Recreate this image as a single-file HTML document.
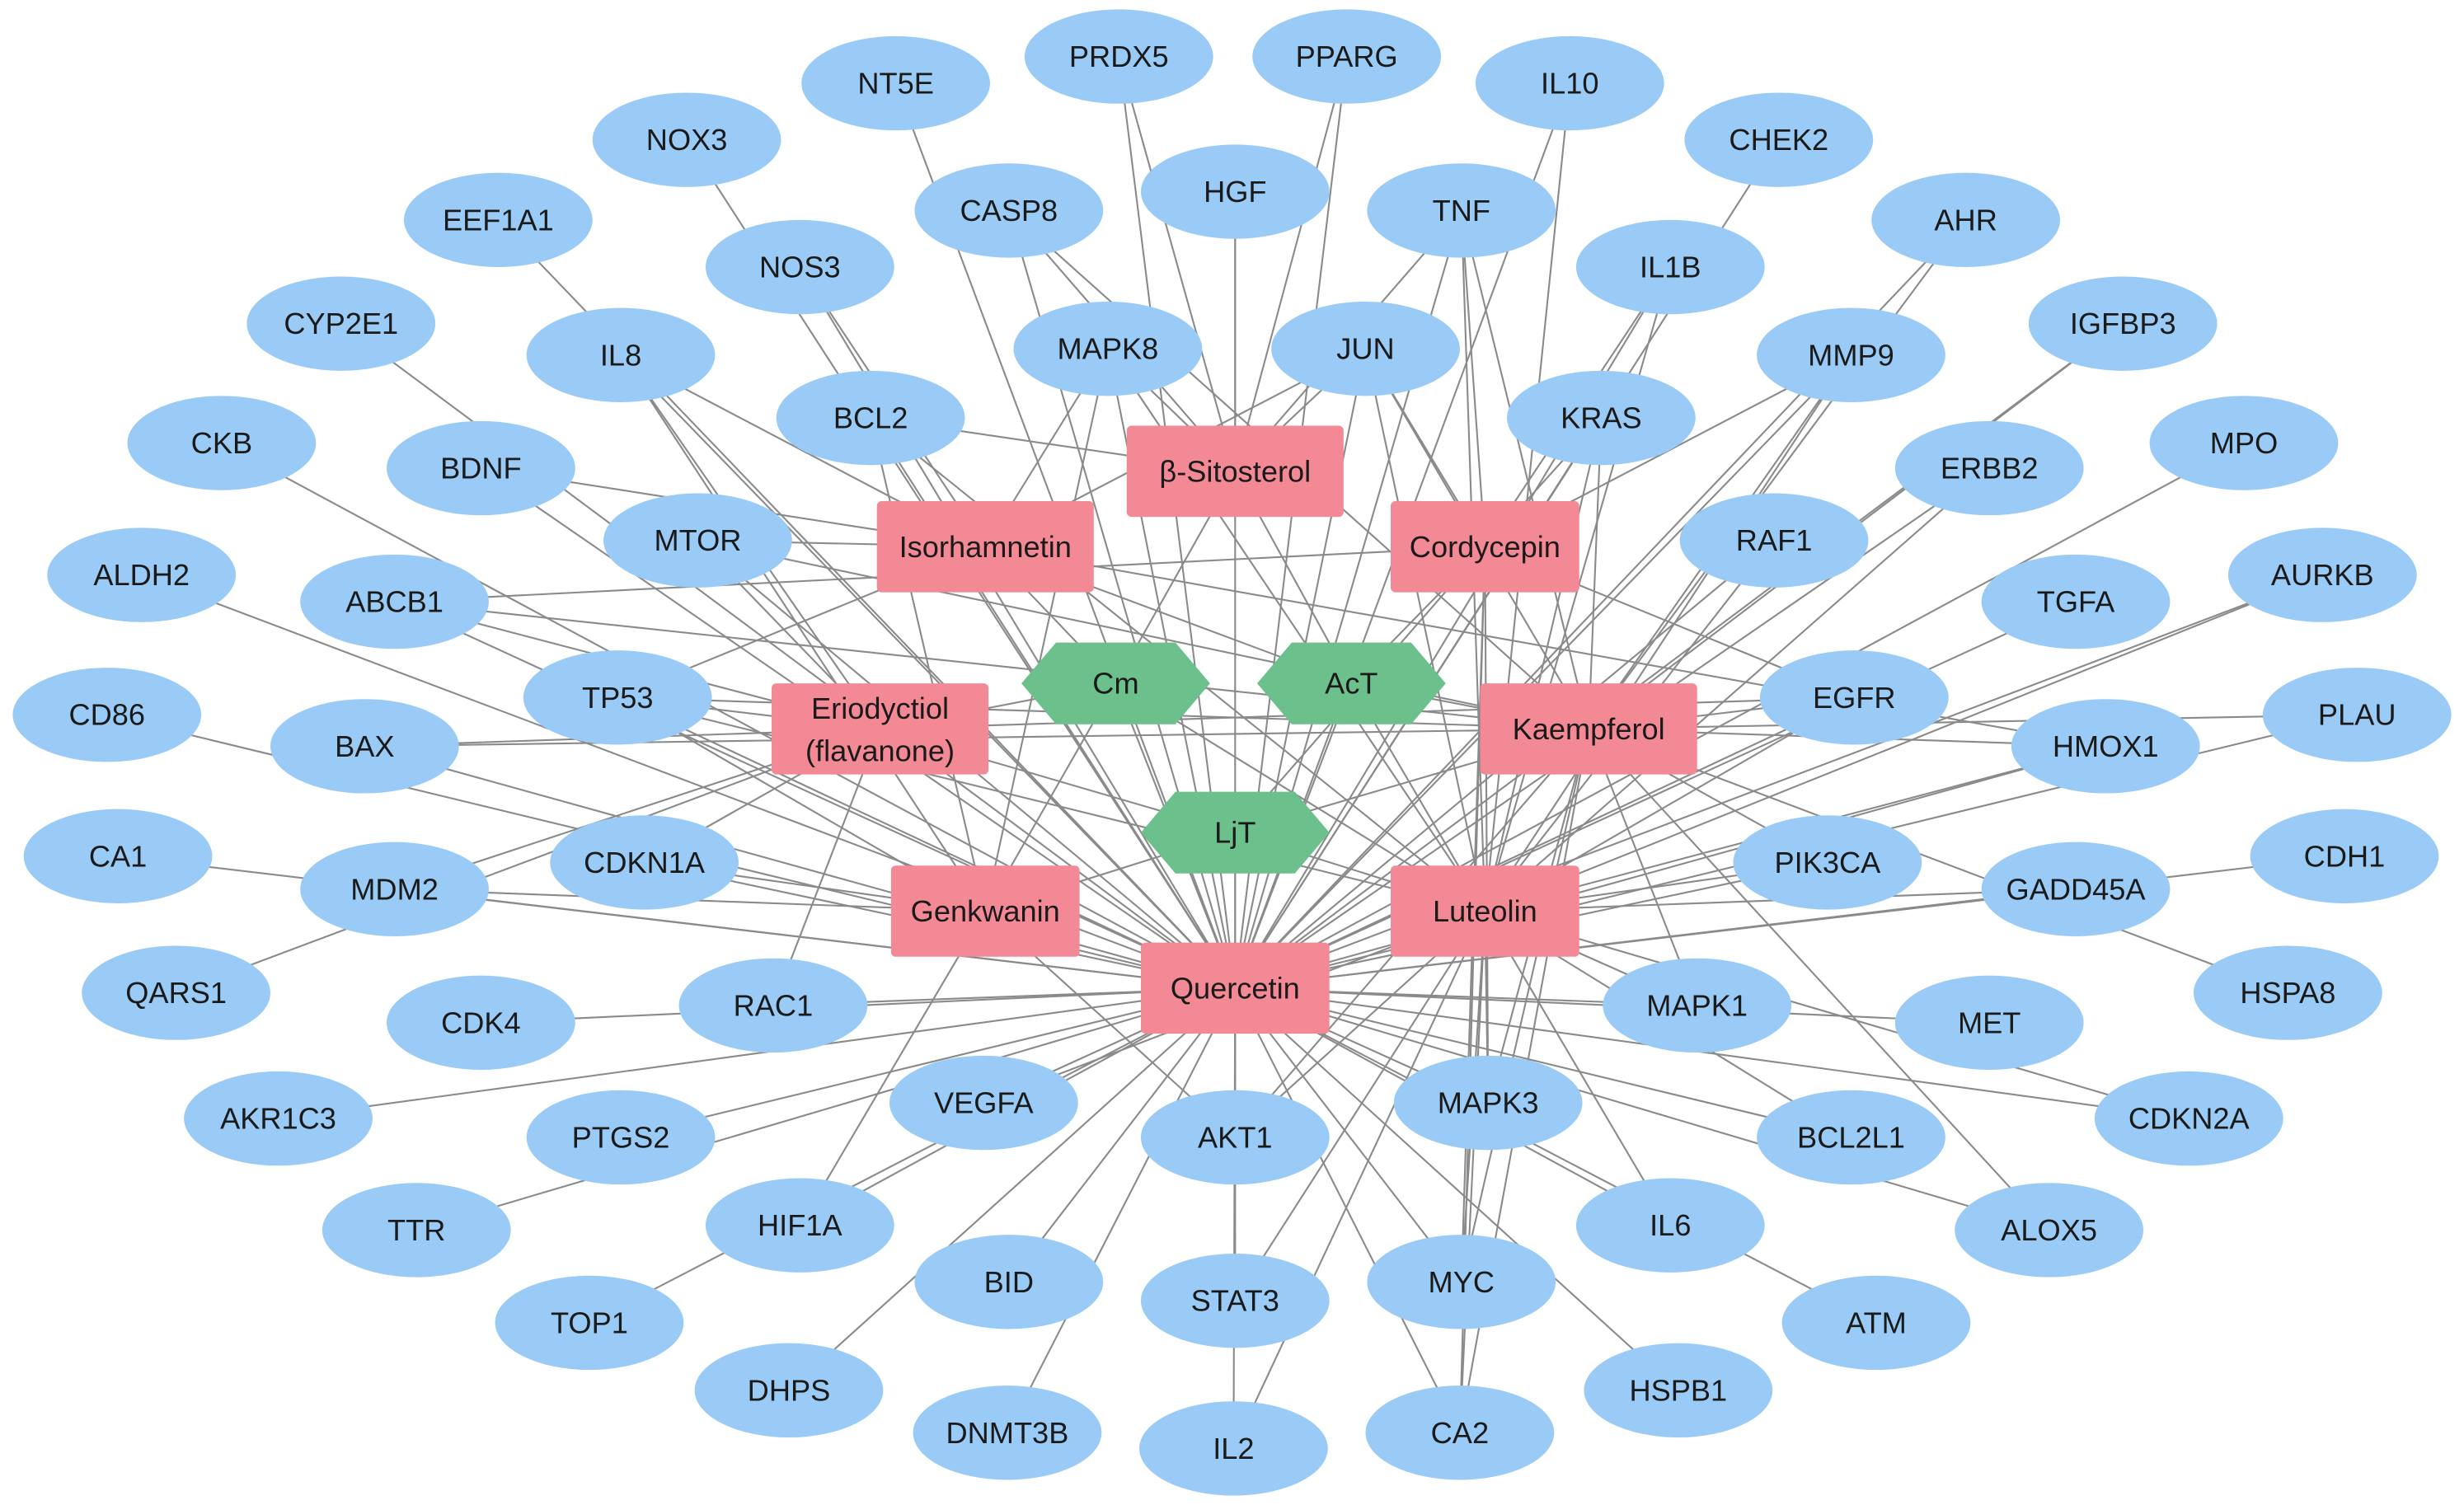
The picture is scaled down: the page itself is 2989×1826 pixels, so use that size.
<!DOCTYPE html>
<html><head><meta charset="utf-8"><style>
html,body{margin:0;padding:0;background:#fff;}
svg{display:block;}
text{font-family:"Liberation Sans",Arial,sans-serif;font-size:19px;fill:#1a1a1a;text-anchor:middle;dominant-baseline:central;}
</style></head><body>
<svg id="s" width="2989" height="1826" viewBox="0 0 1568 958" xmlns="http://www.w3.org/2000/svg">
<g id="edges" stroke="#8a8a8a" stroke-width="1.1"></g>
<g id="nodes"></g>
</svg>
<script>
var T={NT5E:[570,53],PRDX5:[712,36],PPARG:[857,36],IL10:[999,53],NOX3:[437,89],CHEK2:[1132,89],EEF1A1:[317,140],CASP8:[642,134],HGF:[786,122],TNF:[930,134],AHR:[1251,140],NOS3:[509,170],IL1B:[1063,170],CYP2E1:[217,206],IGFBP3:[1351,206],IL8:[395,226],MAPK8:[705,222],JUN:[869,222],MMP9:[1178,226],BCL2:[554,266],KRAS:[1019,266],CKB:[141,282],MPO:[1428,282],BDNF:[306,298],ERBB2:[1266,298],MTOR:[444,344],RAF1:[1129,344],ALDH2:[90,366],AURKB:[1478,366],ABCB1:[251,383],TGFA:[1321,383],TP53:[393,444],EGFR:[1180,444],CD86:[68,455],PLAU:[1500,455],BAX:[232,475],HMOX1:[1340,475],CA1:[75,545],CDH1:[1492,545],CDKN1A:[410,549],PIK3CA:[1163,549],MDM2:[251,566],GADD45A:[1321,566],QARS1:[112,632],HSPA8:[1456,632],CDK4:[306,651],RAC1:[492,640],MAPK1:[1080,640],MET:[1266,651],AKR1C3:[177,712],CDKN2A:[1393,712],VEGFA:[626,702],MAPK3:[947,702],PTGS2:[395,724],AKT1:[786,724],BCL2L1:[1178,724],TTR:[265,783],HIF1A:[509,780],IL6:[1063,780],ALOX5:[1304,783],BID:[642,816],STAT3:[786,828],MYC:[930,816],TOP1:[375,842],ATM:[1194,842],DHPS:[502,885],HSPB1:[1068,885],DNMT3B:[641,912],IL2:[785,922],CA2:[929,912]};
var C={Sit:[786,300,138,'β-Sitosterol'],Iso:[627,348,138,'Isorhamnetin'],Cor:[945,348,120,'Cordycepin'],Eri:[560,464,138,'Eriodyctiol|(flavanone)'],Kae:[1011,464,138,'Kaempferol'],Gen:[627,580,120,'Genkwanin'],Lut:[945,580,120,'Luteolin'],Que:[786,629,120,'Quercetin']};
var H={Cm:[710,435],AcT:[860,435],LjT:[786,530]};
var E={
Que:['NT5E','PRDX5','PPARG','IL10','CASP8','HGF','TNF','AHR','NOS3','IL1B','CYP2E1','IGFBP3','IL8','MAPK8','JUN','MMP9','BCL2','KRAS','CKB','MPO','BDNF','ERBB2','MTOR','RAF1','ALDH2','AURKB','ABCB1','TGFA','TP53','EGFR','CD86','PLAU','BAX','HMOX1','CDKN1A','PIK3CA','MDM2','GADD45A','CDK4','RAC1','MAPK1','MET','AKR1C3','CDKN2A','VEGFA','MAPK3','PTGS2','AKT1','BCL2L1','TTR','HIF1A','IL6','ALOX5','BID','STAT3','MYC','TOP1','ATM','DHPS','HSPB1','DNMT3B','IL2','CA2','CHEK2','EEF1A1','NOX3','CA1','CDH1'],
Lut:['IL10','TNF','IL1B','JUN','MMP9','KRAS','MAPK8','RAF1','EGFR','HMOX1','PIK3CA','MAPK1','MAPK3','AKT1','BCL2L1','IL6','MYC','STAT3','CA2','VEGFA','TP53','ERBB2','AURKB','GADD45A','CDKN2A','IL2','BCL2'],
Kae:['AHR','MMP9','KRAS','EGFR','HMOX1','PIK3CA','MAPK1','ALOX5','AKT1','MAPK3','TNF','JUN','TP53','CASP8','ABCB1','BAX','MTOR','IGFBP3','MYC','CA2','PLAU','HSPA8'],
Gen:['MAPK8','BCL2','TP53','IL8','HIF1A','CDKN1A','MDM2','AKT1'],
Iso:['MAPK8','NOS3','BDNF','TP53','IL8','MTOR','HMOX1','JUN'],
Cor:['JUN','TNF','MMP9','KRAS','CA2','MYC','ABCB1','EGFR','IL1B','MAPK3'],
Eri:['TP53','BAX','ABCB1','MTOR','RAC1','MDM2','CDKN1A','EGFR','IL8','QARS1'],
Sit:['PRDX5','CASP8','HGF','MAPK8','JUN','PPARG','BCL2','TNF']
};
var HE={Cm:['Iso','Eri','Gen','Que','Sit','Lut'],AcT:['Cor','Kae','Lut','Que','Sit','Iso'],LjT:['Que','Lut','Kae','Gen','Eri','Cor']};
var eg=document.getElementById('edges'),ng=document.getElementById('nodes'),s='';
function ln(a,b){s+='<line x1="'+a[0]+'" y1="'+a[1]+'" x2="'+b[0]+'" y2="'+b[1]+'"/>';}
for(var k in E)E[k].forEach(function(t){ln(C[k],T[t]);});
for(var k in HE)HE[k].forEach(function(t){ln(H[k],C[t]);});
eg.innerHTML=s;
var n='';
for(var k in T){var p=T[k];n+='<ellipse cx="'+p[0]+'" cy="'+p[1]+'" rx="60" ry="30" fill="#99cbf6"/><text x="'+p[0]+'" y="'+p[1]+'">'+k+'</text>';}
for(var k in C){var c=C[k];n+='<rect x="'+(c[0]-c[2]/2)+'" y="'+(c[1]-29)+'" width="'+c[2]+'" height="58" rx="3" fill="#f48996"/>';
 var L=c[3].split('|');if(L.length==1)n+='<text x="'+c[0]+'" y="'+c[1]+'">'+L[0]+'</text>';else n+='<text x="'+c[0]+'" y="'+(c[1]-13)+'">'+L[0]+'</text><text x="'+c[0]+'" y="'+(c[1]+14)+'">'+L[1]+'</text>';}
for(var k in H){var h=H[k],x=h[0],y=h[1];n+='<polygon points="'+(x-60)+','+y+' '+(x-38)+','+(y-26)+' '+(x+38)+','+(y-26)+' '+(x+60)+','+y+' '+(x+38)+','+(y+26)+' '+(x-38)+','+(y+26)+'" fill="#6cc08c"/><text x="'+x+'" y="'+y+'">'+k+'</text>';}
ng.innerHTML=n;
</script>
</body></html>
